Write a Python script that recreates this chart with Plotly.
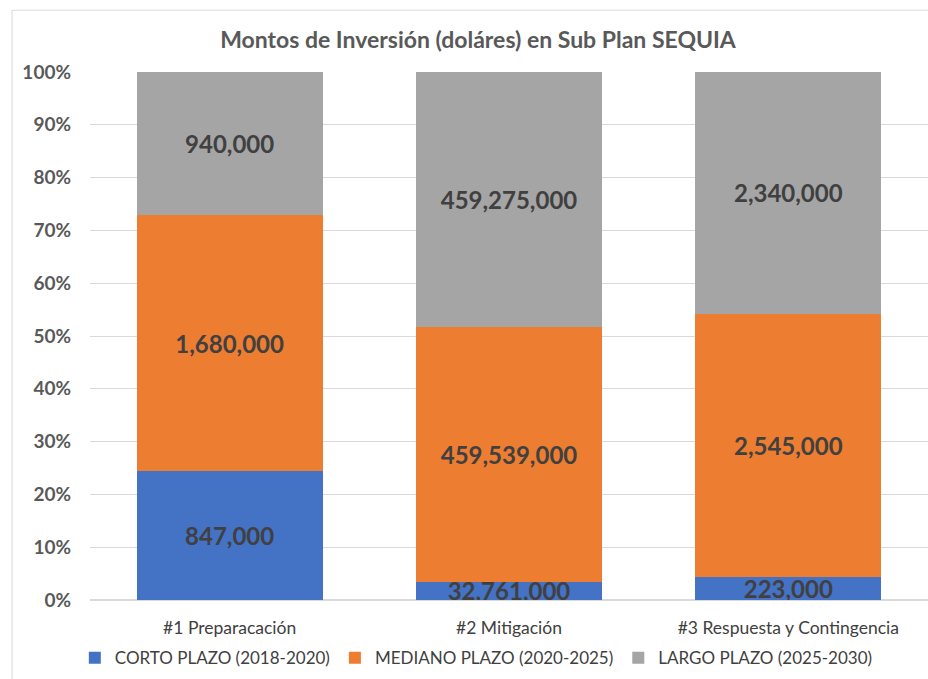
import plotly.graph_objects as go

categories = ["#1 Preparacación", "#2 Mitigación", "#3 Respuesta y Contingencia"]
corto_plazo = [847000, 32761000, 223000]
mediano_plazo = [1680000, 459539000, 2545000]
largo_plazo = [940000, 459275000, 2340000]

series = [
    ("CORTO PLAZO (2018-2020)", corto_plazo, "#4472C4"),
    ("MEDIANO PLAZO (2020-2025)", mediano_plazo, "#ED7D31"),
    ("LARGO PLAZO (2025-2030)", largo_plazo, "#A5A5A5"),
]

FONT = "Lato, 'Open Sans', sans-serif"

fig = go.Figure()
for name, vals, color in series:
    fig.add_trace(go.Bar(
        x=categories,
        y=vals,
        name=name,
        marker=dict(color=color, line=dict(width=0)),
        text=[f"{v:,}" for v in vals],
        texttemplate="%{text}",
        textposition="inside",
        insidetextanchor="middle",
        textangle=0,
        textfont=dict(family=FONT, size=24, color="#404040", weight="bold"),
        width=0.667,
        hoverinfo="skip",
    ))

fig.update_layout(
    barmode="stack",
    barnorm="percent",
    width=928,
    height=679,
    margin=dict(l=90, r=0, t=72, b=79),
    paper_bgcolor="white",
    plot_bgcolor="white",
    font=dict(family=FONT, color="#595959"),
    uniformtext=dict(minsize=24, mode="show"),
    title=dict(
        text="Montos de Inversión (doláres) en Sub Plan SEQUIA",
        font=dict(family=FONT, size=23, color="#595959", weight="bold"),
        x=0.463, xanchor="center", y=0.941, yanchor="middle",
        xref="paper",
    ),
    xaxis=dict(
        range=[-0.5, 2.5],
        showgrid=False,
        showline=False,
        ticks="",
        tickfont=dict(family=FONT, size=17.5, color="#404040"),
        ticklabelstandoff=15,
    ),
    yaxis=dict(
        range=[0, 100],
        tickvals=list(range(0, 101, 10)),
        ticktext=[f"{v}%" for v in range(0, 101, 10)],
        showgrid=True,
        gridcolor="#D9D9D9",
        gridwidth=1,
        zeroline=True,
        zerolinecolor="#D9D9D9",
        showline=False,
        ticks="",
        tickfont=dict(family=FONT, size=19, color="#595959", weight="bold"),
        ticklabelstandoff=18,
    ),
    legend=dict(
        orientation="h",
        x=0.461, xanchor="center",
        y=-0.11, yanchor="middle",
        font=dict(family=FONT, size=17, color="#404040"),
        traceorder="normal",
        itemwidth=30,
    ),
    showlegend=True,
)

# chart frame (left and top edges)
fig.add_shape(type="line", xref="paper", yref="paper",
              x0=-0.093, x1=-0.093, y0=1.117, y1=-0.3,
              line=dict(color="#D9D9D9", width=1))
fig.add_shape(type="line", xref="paper", yref="paper",
              x0=-0.093, x1=1.1, y0=1.117, y1=1.117,
              line=dict(color="#D9D9D9", width=1))

fig.write_html("out.html")
